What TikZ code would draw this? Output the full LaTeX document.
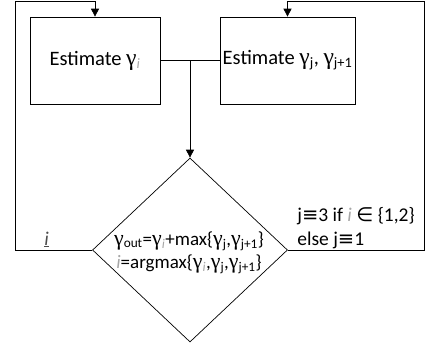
\documentclass[tikz,border=0pt]{standalone}
\usepackage{fontspec}
\setmainfont{Carlito}
\newfontfamily\grk[Scale=1.15]{Liberation Serif}
\newfontfamily\symf{DejaVu Sans}
\usetikzlibrary{arrows.meta,shapes.geometric}
\newcommand{\gm}{{\grk γ}}
\newcommand{\ii}{{\color{black!35}\textit{i}}}
\newcommand{\sbs}[1]{\textsubscript{#1}}
\newcommand{\eqv}{{\symf ≡}}
\newcommand{\elm}{{\symf ∈}}
\begin{document}
\begin{tikzpicture}[x=1pt,y=-1pt,line width=0.7pt,
  box/.style={draw,minimum width=130pt,minimum height=87pt,inner sep=0pt,font=\fontsize{20.5}{24}\selectfont},
  txt/.style={inner sep=0pt,font=\fontsize{19.5}{22}\selectfont},
  dtxt/.style={inner sep=0pt,font=\fontsize{19}{22}\selectfont},
  arr/.style={-{Triangle[length=8pt,width=8pt]}}]
\useasboundingbox (0,0) rectangle (425,349);
\node[box] (A) at (95,60.5) {Estimate \gm\sbs{\ii}};
\node[box,minimum width=135pt] (B) at (287.5,60.5) {Estimate \gm\sbs{j}, \gm\sbs{j+1}};
\node[diamond,draw,minimum width=195pt,minimum height=184pt,inner sep=0pt] (D) at (190,250) {};
\coordinate (J) at (190,60.5);
\coordinate (L1) at (15,250);
\coordinate (L2) at (15,1);
\coordinate (R1) at (424,250);
\coordinate (R2) at (424,1);
\draw (A.east) -- (B.west);
\draw[arr] (J) -- (D.north);
\draw[arr] (D.west) -- (L1) -- (L2) -| (A.north);
\draw[arr] (D.east) -- (R1) -- (R2) -| (B.north);
\node[dtxt,anchor=base] (t1) at (189,245) {\gm\sbs{out}=\gm\sbs{\ii}+max\{\gm\sbs{j},\gm\sbs{j+1}\}};
\node[dtxt,anchor=base] (t2) at (189,268) {\ii=argmax\{\gm\sbs{\ii},\gm\sbs{j},\gm\sbs{j+1}\}};
\node[txt,anchor=base west] (c1) at (297,221) {j\eqv3 if \ii{} \elm{} \{1,2\}};
\node[txt,anchor=base west] (c2) at (297,245) {else j\eqv1};
\node[txt,anchor=base west,text=black!70] (il) at (44,245) {\underline{\textit{i}}};
\end{tikzpicture}
\end{document}
